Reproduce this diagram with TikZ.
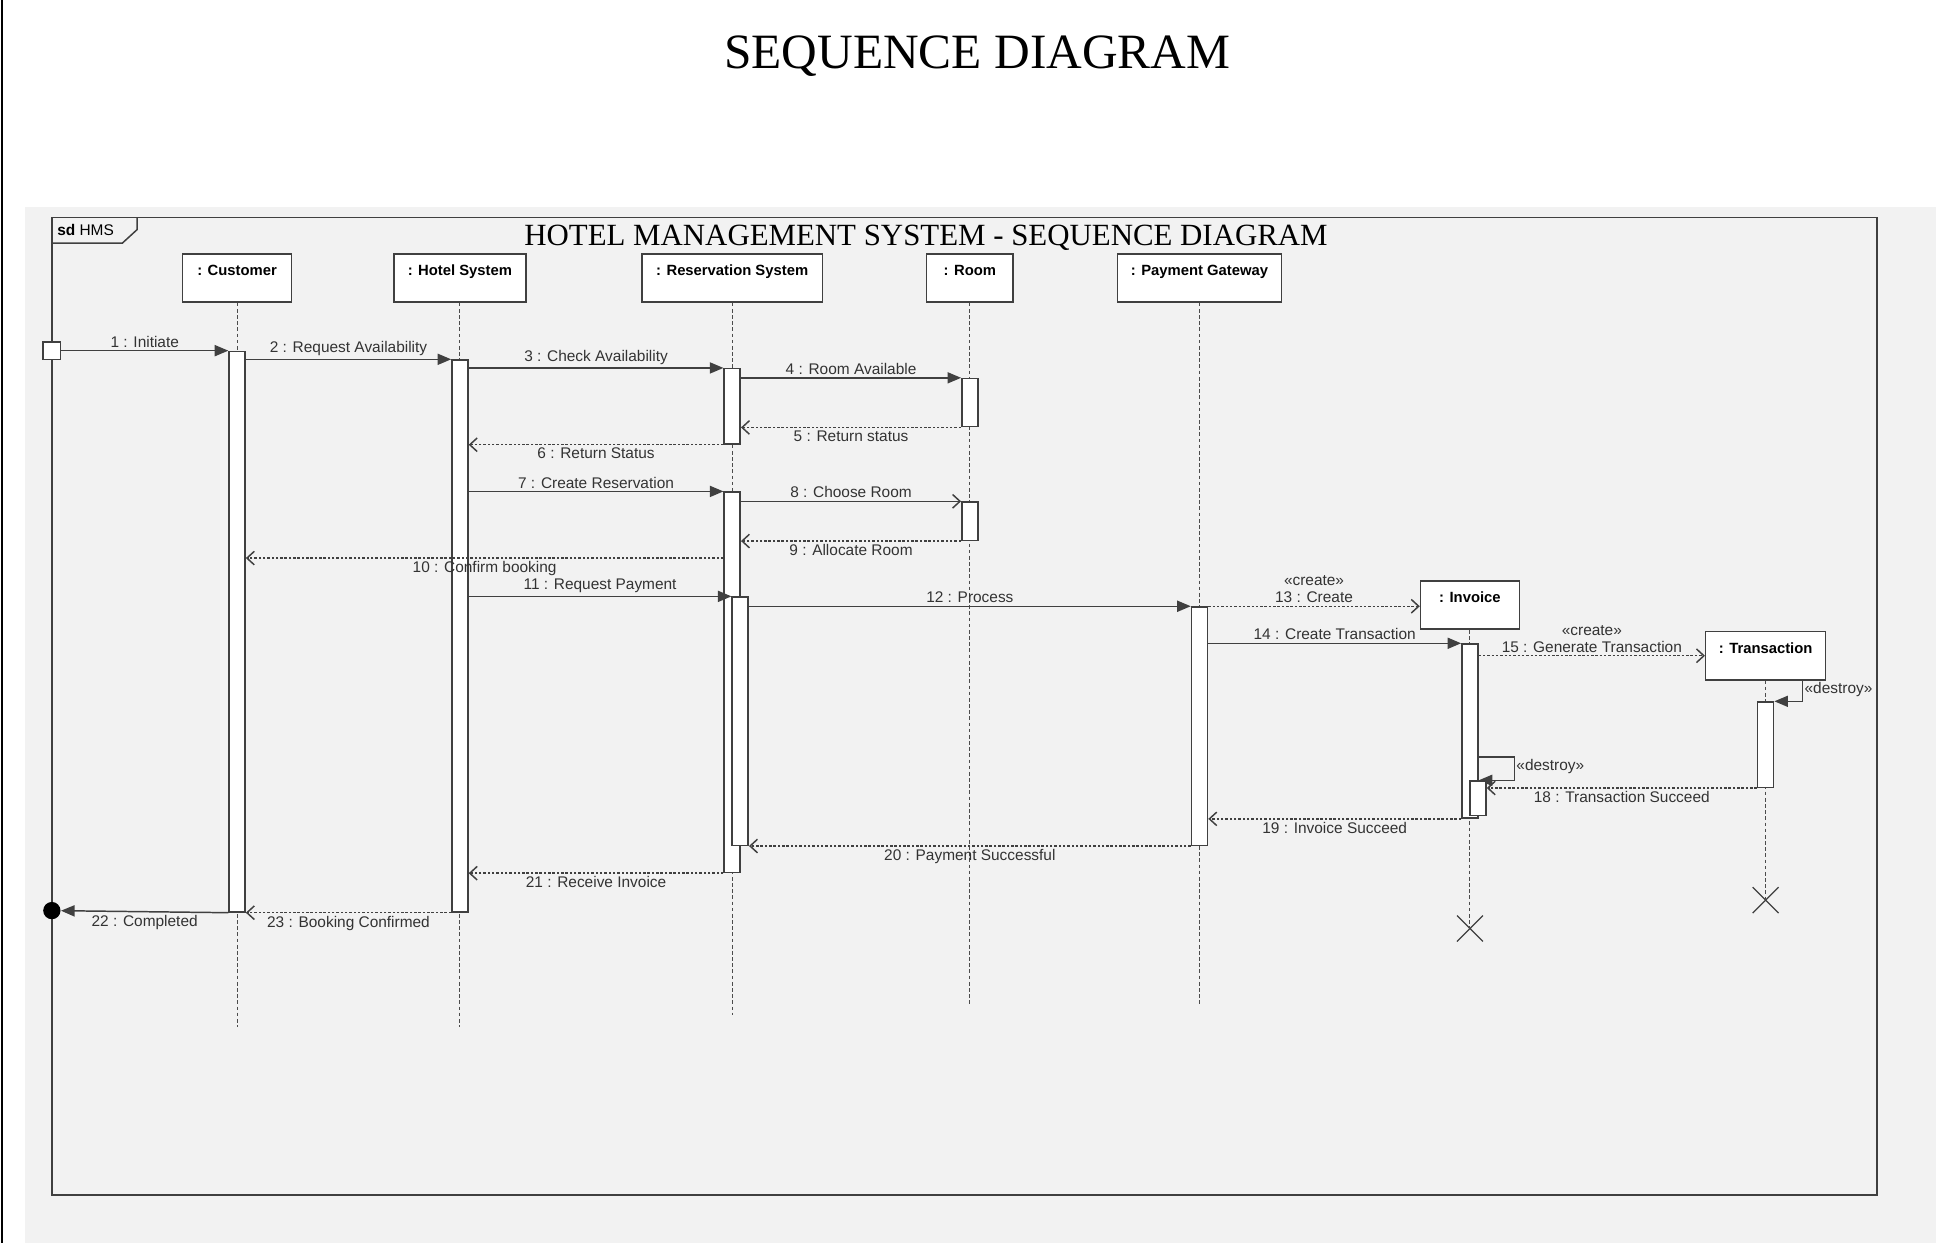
\documentclass[tikz,border=0pt]{standalone}
\usepackage{fontspec}
\setmainfont{Liberation Sans}
\newfontfamily\ttlfont{Liberation Serif}
\usetikzlibrary{arrows.meta,shapes.misc}

\begin{document}
\begin{tikzpicture}
  [x=1pt,y=-1pt,thick,
   font=\fontsize{12.5}{14}\selectfont,
   lifeN/.style={draw=black!75,fill=white,line width=1.2pt,anchor=north,
     font=\fontsize{12}{14}\selectfont\bfseries,text height=13pt,text depth=17pt,
     inner ysep=4.5pt,inner xsep=0pt},
   actN/.style={draw=black!75,fill=white,line width=1.2pt,anchor=north,
     minimum width=13pt,inner sep=0pt},
   lifeL/.style={draw=black!70,line width=0.8pt,dash pattern=on 3pt off 2pt},
   callM/.style={draw=black!75,line width=1.2pt,-{Triangle[length=11pt,width=9pt]}},
   replyM/.style={draw=black!75,line width=1.2pt,dash pattern=on 2pt off 1.5pt,
     -{Straight Barb[length=6pt,width=11pt]}},
   msgL/.style={text=black!80,inner sep=2pt}
  ]
  \useasboundingbox (0,0) rectangle (1568,1007);

  % page and frame
  \fill[black!5] (20,168) rectangle (1568,1007);
  \draw[line width=2pt] (1.5,0) -- (1.5,1007);
  \node[anchor=base,font=\ttlfont\fontsize{40}{44}\selectfont] (ttl) at (791.5,55.5) {SEQUENCE DIAGRAM};
  \draw[draw=black!75,line width=1.2pt] (42,176) rectangle (1520,968);
  \draw[draw=black!75,line width=1.2pt] (111,176) -- (111,186) -- (99,197) -- (42,197);
  \node[anchor=west,inner sep=0pt] (sdlbl) at (46,186.5) {\textbf{sd} HMS};
  \node[anchor=base,font=\ttlfont\fontsize{25}{28}\selectfont] (sub) at (750,199) {HOTEL MANAGEMENT SYSTEM - SEQUENCE DIAGRAM};

  % lifelines
  \node[lifeN,minimum width=88pt] (cust) at (192,205) {: Customer};
  \node[lifeN,minimum width=107pt] (hot) at (372.5,205) {: Hotel System};
  \node[lifeN,minimum width=146pt] (res) at (593,205) {: Reservation System};
  \node[lifeN,minimum width=70pt] (room) at (785.5,205) {: Room};
  \node[lifeN,minimum width=133pt] (pay) at (971.5,205) {: Payment Gateway};

  \foreach \h/\e in {cust/832,hot/832,res/822,room/815,pay/815} {
     \draw[lifeL] (\h.south) -- (\h |- 0,\e);
  }

  \node[draw=black!75,cross out,minimum size=20pt,line width=1pt] (xinv) at (1190.5,752) {};
  \node[draw=black!75,cross out,minimum size=20pt,line width=1pt] (xtra) at (1430,729) {};

  % activations
  \foreach \n/\h/\s/\t/\b in {ac/cust/0/284/738,ah/hot/0/291/738,ar1/res/0/298/359,
      arm1/room/0/306/345,ar2/res/0/398/706,arm2/room/0/406/437,ar3/res/6.5/483/684,
      ap/pay/0/491/684} {
     \node[actN,minimum height=\b-\t,xshift=\s] (\n) at (\h |- 0,\t) {};
  }

  \node[draw=black!75,fill=white,line width=1.2pt,minimum size=14pt,inner sep=0pt] (init) at (42,284) {};
  \node[circle,fill=black,minimum size=14pt,inner sep=0pt] (fin) at (42,737.5) {};

  \coordinate (m10) at (0,452);
  \coordinate (m17) at (0,613);

  \draw[callM] (init) -- node[msgL,above] {1 : Initiate} (ac.north west);
  \draw[callM] (ac.east |- ah.north) -- node[msgL,above] {2 : Request Availability} (ah.north west);
  \draw[callM] (ah.east |- ar1.north) -- node[msgL,above] {3 : Check Availability} (ar1.north west);
  \draw[callM] (ar1.east |- arm1.north) -- node[msgL,above] {4 : Room Available} (arm1.north west);
  \draw[replyM] (arm1.south west) -- node[msgL,below] {5 : Return status} (ar1.east |- arm1.south);
  \draw[replyM] (ar1.south west) -- node[msgL,below] {6 : Return Status} (ah.east |- ar1.south);
  \draw[callM] (ah.east |- ar2.north) -- node[msgL,above] {7 : Create Reservation} (ar2.north west);
  \draw[callM,-{Straight Barb[length=6pt,width=11pt]}] (ar2.east |- arm2.north) -- node[msgL,above] {8 : Choose Room} (arm2.north west);
  \draw[replyM] (arm2.south west) -- node[msgL,below] {9 : Allocate Room} (ar2.east |- arm2.south);
  \draw[replyM] (ar2.west |- m10) -- node[msgL,below] {10 : Confirm booking} (ac.east |- m10);
  \draw[callM] (ah.east |- ar3.north) -- node[msgL,above] {11 : Request Payment} (ar3.north west);
  \draw[callM] (ar3.east |- ap.north) -- node[msgL,above] {12 : Process} (ap.north west);

  \node[lifeN,minimum width=80pt] (inv) at (1190.5,470) {: Invoice};
  \draw[lifeL] (inv.south) -- (xinv.center);
  \node[actN,minimum height=141pt] (ai) at (inv |- 0,521) {};
  \draw[replyM] (ap.north east) -- node[msgL,above,align=center] {«create»\\13 : Create} (inv.west |- ap.north);
  \draw[callM] (ap.east |- ai.north) -- node[msgL,above] {14 : Create Transaction} (ai.north west);

  \node[lifeN,minimum width=97pt] (tra) at (1430,511) {: Transaction};
  \draw[lifeL] (tra.south) -- (xtra.center);
  \node[actN,minimum height=69pt] (at) at (tra |- 0,568) {};
  \draw[replyM] (ai.east |- tra.west) -- node[msgL,above,align=center] {«create»\\15 : Generate Transaction} (tra.west);
  \draw[callM] (tra.south) -- ++(30,0) node[msgL,below right,inner sep=1pt] {«destroy»} |- (at.north east);

  \draw[callM] (ai.east |- m17) -- ++(29,0) node[msgL,below right,inner sep=1pt] {«destroy»} |- (ai.east |- 0,632);
  \node[actN,minimum height=28pt,xshift=6.5pt] (ai2) at (inv |- 0,632) {};
  \draw[replyM] (at.south west) -- node[msgL,below] {18 : Transaction Succeed} (ai2.east |- at.south);
  \draw[replyM] (ai.south west) -- node[msgL,below] {19 : Invoice Succeed} (ap.east |- ai.south);
  \draw[replyM] (ap.south west) -- node[msgL,below] {20 : Payment Successful} (ar3.east |- ap.south);
  \draw[replyM] (ar2.south west) -- node[msgL,below] {21 : Receive Invoice} (ah.east |- ar2.south);
  \draw[callM] (ac.south west) -- node[msgL,below] {22 : Completed} (fin);
  \draw[replyM] (ah.south west) -- node[msgL,below] {23 : Booking Confirmed} (ac.east |- ah.south);

\end{tikzpicture}
\end{document}
